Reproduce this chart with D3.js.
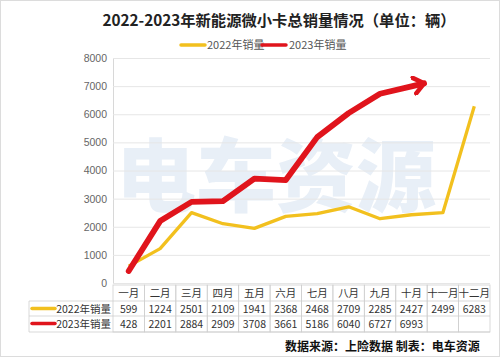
<!DOCTYPE html>
<html><head><meta charset="utf-8">
<script src="https://cdn.jsdelivr.net/npm/d3@7"></script>
<style>body{margin:0;background:#fff}svg{display:block;font-family:"Noto Sans CJK SC","Noto Sans",sans-serif}</style>
</head><body><svg id="c" width="500" height="357"></svg>
<script>
const months = ["一月","二月","三月","四月","五月","六月","七月","八月","九月","十月","十一月","十二月"];
const seriesNames = ["2022年销量","2023年销量"];
const sales2022 = [599,1224,2501,2109,1941,2368,2468,2709,2285,2427,2499,6283];
const sales2023 = [428,2201,2884,2909,3708,3661,5186,6040,6727,6993];
const yTicks = [0,1000,2000,3000,4000,5000,6000,7000,8000];
const colors = ["#f2c01e","#e0141c"];
const title = "2022-2023年新能源微小卡总销量情况（单位：辆）";
const footer = "数据来源：上险数据 制表：电车资源";

const svg = d3.select("#c");
svg.append("rect").attr("x",0.5).attr("y",0.5).attr("width",499).attr("height",356)
  .attr("fill","#fff").attr("stroke","#dcdcdc");

const L = 113, R = 490, T = 58, B = 283;
const x = d3.scaleBand().domain(months).range([L,R]);
const y = d3.scaleLinear().domain([0,8000]).range([B,T]);

// watermark
svg.append("text").attr("x",276).attr("y",205).attr("text-anchor","middle")
  .attr("font-size",80).attr("font-weight",900).attr("fill","#e8eff7")
  .text("电车资源");

// title
svg.append("text").attr("x",279).attr("y",26).attr("text-anchor","middle")
  .attr("font-size",15.3).attr("font-weight","bold").attr("fill","#222").text(title);

// legend
const lg = svg.append("g");
[[181,207],[262,289]].forEach((p,i)=>{
  lg.append("line").attr("x1",p[0]).attr("x2",p[0]+24).attr("y1",45).attr("y2",45)
    .attr("stroke",colors[i]).attr("stroke-width",3.5).attr("stroke-linecap","round");
  lg.append("text").attr("x",p[1]).attr("y",49).attr("font-size",11).attr("fill","#555").text(seriesNames[i]);
});

// grid + y axis
const ya = svg.append("g").attr("transform",`translate(${L},0)`)
  .call(d3.axisLeft(y).tickValues(yTicks).tickFormat(d3.format("d")).tickSize(-(R-L)).tickPadding(6));
ya.select(".domain").attr("stroke","#d8d8d8");
ya.selectAll(".tick line").attr("stroke","#e6e6e6");
ya.selectAll(".tick text").attr("fill","#666").attr("font-size",10.5);

// lines
const line = d3.line().x((d,i)=>x(months[i])+x.bandwidth()/2).y(d=>y(d));
svg.append("path").datum(sales2022).attr("d",line).attr("fill","none")
  .attr("stroke",colors[0]).attr("stroke-width",3.3).attr("stroke-linejoin","round");

svg.append("defs").append("marker").attr("id","arr").attr("viewBox","-12 -10 14 20")
  .attr("refX",0).attr("refY",0).attr("markerWidth",14).attr("markerHeight",20)
  .attr("markerUnits","userSpaceOnUse").attr("orient","auto")
  .append("path").attr("d","M-10,-8 L0,0 L-10,8").attr("fill","none")
  .attr("stroke",colors[1]).attr("stroke-width",4.5).attr("stroke-linecap","round").attr("stroke-linejoin","round");

const pts = sales2023.map((d,i)=>[x(months[i])+x.bandwidth()/2, y(d)]);
const n = pts.length, a = pts[n-2], b = pts[n-1];
const dx = b[0]-a[0], dy = b[1]-a[1], len = Math.hypot(dx,dy);
const ext = [b[0]+dx/len*13, b[1]+dy/len*13];
svg.append("path").attr("d", d3.line()(pts.concat([ext]))).attr("fill","none")
  .attr("stroke",colors[1]).attr("stroke-width",5.8).attr("stroke-linejoin","round")
  .attr("stroke-linecap","round").attr("marker-end","url(#arr)");

// data table
const tb = svg.append("g");
const rowY = [285,301,316,332];
const bc = "#cfcfcf";
months.forEach(m=>{
  tb.append("rect").attr("x",x(m)).attr("y",rowY[0]).attr("width",x.bandwidth()).attr("height",rowY[3]-rowY[0])
    .attr("fill","none").attr("stroke",bc).attr("stroke-width",0.8);
  tb.append("text").attr("x",x(m)+x.bandwidth()/2).attr("y",rowY[0]+12).attr("text-anchor","middle")
    .attr("font-size",10.5).attr("fill","#333").text(m);
});
[rowY[1],rowY[2],rowY[3]].forEach(yy=>{
  tb.append("line").attr("x1",29).attr("x2",R).attr("y1",yy).attr("y2",yy).attr("stroke",bc).attr("stroke-width",0.8);
});
tb.append("line").attr("x1",29).attr("x2",29).attr("y1",rowY[1]).attr("y2",rowY[3]).attr("stroke",bc).attr("stroke-width",0.8);
[sales2022,sales2023].forEach((arr,r)=>{
  const cy = rowY[r+1];
  tb.append("line").attr("x1",32).attr("x2",55).attr("y1",cy+7.5).attr("y2",cy+7.5)
    .attr("stroke",colors[r]).attr("stroke-width",3.5).attr("stroke-linecap","round");
  tb.append("text").attr("x",111).attr("y",cy+11.5).attr("text-anchor","end").attr("font-size",10.5)
    .attr("fill","#333").text(seriesNames[r]);
  arr.forEach((v,i)=>{
    tb.append("text").attr("x",x(months[i])+x.bandwidth()/2).attr("y",cy+11.5).attr("text-anchor","middle")
      .attr("font-size",10.5).attr("fill","#333").text(v);
  });
});

// footer
svg.append("text").attr("x",285).attr("y",351).attr("font-size",12).attr("font-weight","bold")
  .attr("fill","#111").text(footer);
</script></body></html>
